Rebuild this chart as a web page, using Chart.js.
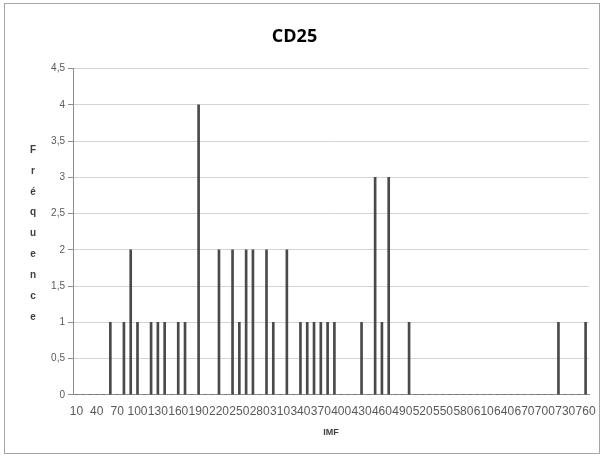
<!DOCTYPE html>
<html>
<head>
<meta charset="utf-8">
<script src="https://cdn.jsdelivr.net/npm/chart.js@4/dist/chart.umd.min.js"></script>
<style>
html, body { margin: 0; padding: 0; background: #fff; }
#box { position: relative; width: 603px; height: 457px; }
</style>
</head>
<body>
<div id="box"><canvas id="bar-chart"></canvas></div>
<script>
var categories = [
    "10", "20", "30", "40", "50", "60", "70", "80", "90", "100",
    "110", "120", "130", "140", "150", "160", "170", "180", "190", "200",
    "210", "220", "230", "240", "250", "260", "270", "280", "290", "300",
    "310", "320", "330", "340", "350", "360", "370", "380", "390", "400",
    "410", "420", "430", "440", "450", "460", "470", "480", "490", "500",
    "510", "520", "530", "540", "550", "560", "570", "580", "590", "600",
    "610", "620", "630", "640", "650", "660", "670", "680", "690", "700",
    "710", "720", "730", "740", "750", "760"
];
var frequence = [
    0, 0, 0, 0, 0, 1, 0, 1, 2, 1,
    0, 1, 1, 1, 0, 1, 1, 0, 4, 0,
    0, 2, 0, 2, 1, 2, 2, 0, 2, 1,
    0, 2, 0, 1, 1, 1, 1, 1, 1, 0,
    0, 0, 1, 0, 3, 1, 3, 0, 0, 1,
    0, 0, 0, 0, 0, 0, 0, 0, 0, 0,
    0, 0, 0, 0, 0, 0, 0, 0, 0, 0,
    0, 1, 0, 0, 0, 1
];
var yTicks = [0, 0.5, 1, 1.5, 2, 2.5, 3, 3.5, 4, 4.5];
var yTitle = ["F", "r", "é", "q", "u", "e", "n", "c", "e"];

// cadre + titre vertical lettre par lettre
var deco = {
    id: "deco",
    afterDraw: function(ch) {
        var x = ch.ctx;
        x.save();
        x.strokeStyle = "#a6a6a6";
        x.lineWidth = 1;
        x.strokeRect(4.5, 3.5, 595, 450);
        x.fillStyle = "#404040";
        x.font = "bold 10px 'Liberation Sans'";
        x.textAlign = "center";
        x.textBaseline = "middle";
        yTitle.forEach(function(l, i) { x.fillText(l, 33, 150 + i * 20.9); });
        x.restore();
    }
};

var a = document.getElementById("bar-chart"),
    b = {
        responsive: !0,
        maintainAspectRatio: !1,
        animation: !1,
        layout: { padding: { top: 26, right: 14, bottom: 16, left: 0 } },
        plugins: {
            legend: { display: !1 },
            tooltip: { enabled: !1 },
            title: {
                display: !0, text: "CD25", color: "#000",
                font: { family: "'Open Sans'", size: 18, weight: "bold" },
                padding: { top: 0, bottom: 21 }
            }
        },
        scales: {
            x: {
                grid: { display: !1 },
                border: { display: !0, color: "#8c8c8c" },
                ticks: {
                    autoSkip: !1, maxRotation: 0, minRotation: 0, padding: 2,
                    color: "#595959", font: { family: "'Liberation Sans'", size: 12 },
                    callback: function(v, i) { return i % 3 === 0 ? categories[i] : ""; }
                },
                title: {
                    display: !0, text: "IMF", color: "#404040",
                    font: { family: "'Liberation Sans'", size: 9, weight: "bold" },
                    padding: { top: 6, bottom: 3 }
                }
            },
            y: {
                min: yTicks[0], max: yTicks[yTicks.length - 1],
                afterFit: function(s) { s.width = 73; },
                afterBuildTicks: function(s) { s.ticks = yTicks.map(function(v) { return { value: v }; }); },
                grid: { color: "#d4d4d4", tickColor: "#8c8c8c", tickLength: 5 },
                border: { color: "#8c8c8c" },
                ticks: {
                    padding: 3, color: "#595959", font: { family: "'Liberation Sans'", size: 10 },
                    callback: function(v) { return String(v).replace(".", ","); }
                }
            }
        }
    },
    c = {
        labels: categories,
        datasets: [{
            label: "Fréquence",
            data: frequence,
            backgroundColor: "#4a4a4a",
            barThickness: 2
        }]
    },
    d = { type: "bar", options: b, data: c, plugins: [deco] };
new Chart(a, d);
</script>
</body>
</html>
